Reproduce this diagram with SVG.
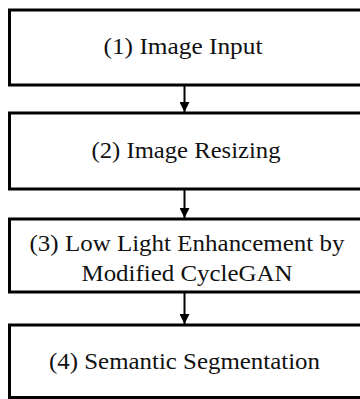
<svg xmlns="http://www.w3.org/2000/svg" width="360" height="399" viewBox="0 0 360 399">
<defs>
<style>
.box{fill:#fff;stroke:#000;stroke-width:3}
.t{font-family:"Liberation Serif","Times New Roman",serif;font-size:23px;fill:#111;text-anchor:middle}
.c{stroke:#000;stroke-width:2;fill:none}
</style>
<marker id="ah" markerWidth="10" markerHeight="10" refX="10" refY="5" orient="auto" markerUnits="userSpaceOnUse">
<path d="M0,0 L10,5 L0,10 Z" fill="#000"/>
</marker>
</defs>
<rect width="360" height="399" fill="#fff"/>
<g id="connectors">
<line class="c" x1="184.5" y1="86" x2="184.5" y2="112" marker-end="url(#ah)"/>
<line class="c" x1="184.5" y1="190" x2="184.5" y2="218" marker-end="url(#ah)"/>
<line class="c" x1="184.5" y1="293" x2="184.5" y2="324" marker-end="url(#ah)"/>
</g>
<g id="n1">
<rect class="box" x="9.5" y="10" width="354" height="75"/>
<text class="t" x="183" y="54" textLength="159" lengthAdjust="spacingAndGlyphs">(1) Image Input</text>
</g>
<g id="n2">
<rect class="box" x="9.5" y="113" width="354" height="76"/>
<text class="t" x="186" y="158" textLength="189" lengthAdjust="spacingAndGlyphs">(2) Image Resizing</text>
</g>
<g id="n3">
<rect class="box" x="9.5" y="219" width="354" height="73"/>
<text class="t" x="187" y="251" textLength="315" lengthAdjust="spacingAndGlyphs">(3) Low Light Enhancement by</text>
<text class="t" x="187" y="281" textLength="211" lengthAdjust="spacingAndGlyphs">Modified CycleGAN</text>
</g>
<g id="n4">
<rect class="box" x="9.5" y="325" width="354" height="72.5"/>
<text class="t" x="184.5" y="369" textLength="271" lengthAdjust="spacingAndGlyphs">(4) Semantic Segmentation</text>
</g>
</svg>
